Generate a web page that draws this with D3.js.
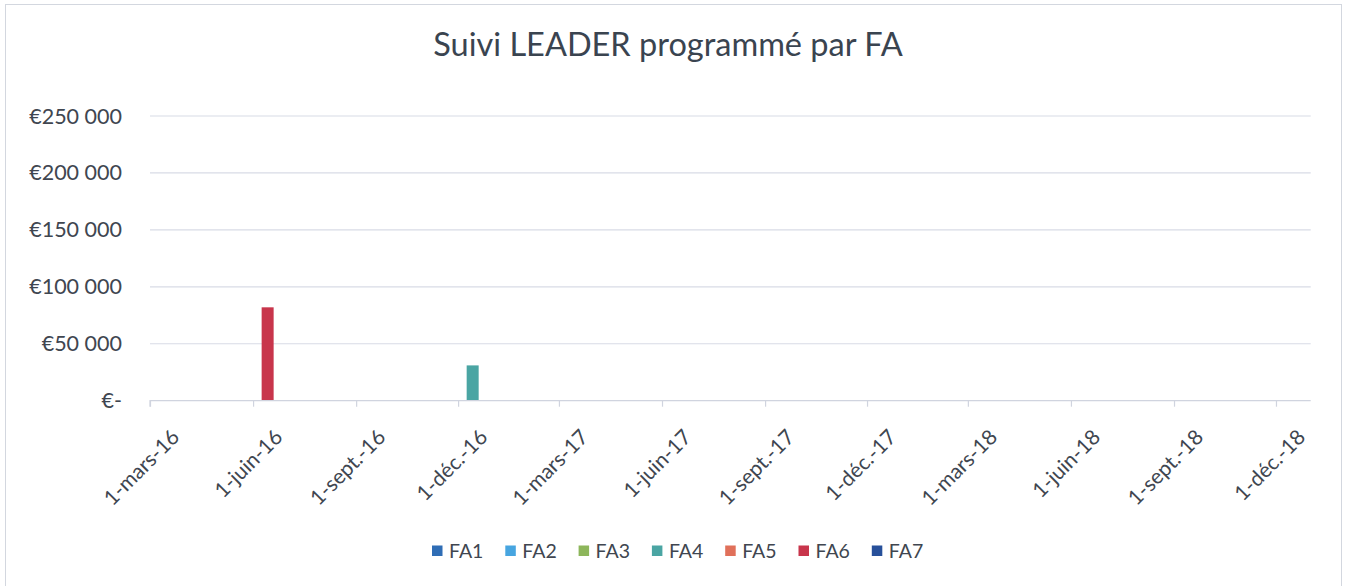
<!DOCTYPE html>
<html><head><meta charset="utf-8">
<script src="https://cdn.jsdelivr.net/npm/d3@7"></script>
<style>
html,body{margin:0;padding:0;background:#fff;}
svg{display:block;font-family:Lato,"Open Sans",sans-serif;}
</style></head>
<body>
<svg id="c" width="1346" height="586"></svg>
<script>
// ---- data ----
const title = "Suivi LEADER programmé par FA";
const seriesNames = ["FA1","FA2","FA3","FA4","FA5","FA6","FA7"];
const seriesColors = ["#2f6db5","#47a5e0","#8db65b","#4aa5a3","#e0705a","#c8354b","#27509a"];
const barSeries = ["FA6","FA4"];
const barDates = ["2016-06-14","2016-12-14"];
const barValues = [82000, 31000];
const tickDates = ["2016-03-01","2016-06-01","2016-09-01","2016-12-01","2017-03-01","2017-06-01","2017-09-01","2017-12-01","2018-03-01","2018-06-01","2018-09-01","2018-12-01"];
const tickLabels = ["1-mars-16","1-juin-16","1-sept.-16","1-déc.-16","1-mars-17","1-juin-17","1-sept.-17","1-déc.-17","1-mars-18","1-juin-18","1-sept.-18","1-déc.-18"];
const yTicks = [0,50000,100000,150000,200000,250000];
const yTickLabels = ["€-","€50 000","€100 000","€150 000","€200 000","€250 000"];
const xDomain = ["2016-03-01","2019-01-01"];

(function(){
const svg = d3.select("#c");
const parse = d3.utcParse("%Y-%m-%d");
const mLeft = 150, mRight = 1310.7, mTop = 116, mBottom = 400.7;
const textCol = "#404650";

svg.append("rect").attr("x",5.5).attr("y",4.5).attr("width",1336).attr("height",600)
  .attr("fill","#fff").attr("stroke","#d3d7df");

const x = d3.scaleUtc().domain(xDomain.map(parse)).range([mLeft, mRight]);
const y = d3.scaleLinear().domain([0,250000]).range([mBottom, mTop]);

svg.append("text").attr("x",668).attr("y",56).attr("text-anchor","middle")
  .attr("font-size",32.5).attr("fill","#3a4450").text(title);

svg.append("g").selectAll("line").data(yTicks.slice(1)).join("line")
  .attr("x1",mLeft).attr("x2",mRight).attr("y1",d=>y(d)).attr("y2",d=>y(d))
  .attr("stroke","#d8dbe6").attr("stroke-width",1.2);

svg.append("g").selectAll("text").data(yTicks).join("text")
  .attr("x",122).attr("y",d=>y(d)).attr("dy","0.35em").attr("text-anchor","end")
  .attr("font-size",21.5).attr("fill",textCol).text((d,i)=>yTickLabels[i]);

const bw = 12;
const colorOf = d3.scaleOrdinal().domain(seriesNames).range(seriesColors);
svg.append("g").selectAll("rect").data(barValues).join("rect")
  .attr("x",(d,i)=>x(parse(barDates[i]))-bw/2).attr("width",bw)
  .attr("y",d=>y(d)).attr("height",d=>y(0)-y(d))
  .attr("fill",(d,i)=>colorOf(barSeries[i]));

const xa = svg.append("g").attr("transform",`translate(0,${mBottom})`)
  .call(d3.axisBottom(x).tickValues(tickDates.map(parse)).tickSize(6).tickFormat(""));
xa.select(".domain").attr("stroke","#d0d4df").attr("stroke-width",1.2).attr("d",`M${mLeft},6V0H${mRight}`);
xa.selectAll(".tick line").attr("stroke","#d0d4df").attr("stroke-width",1.2);

svg.append("g").selectAll("text").data(tickDates).join("text")
  .attr("transform",d=>`translate(${x(parse(d))+20},${mBottom+27}) rotate(-45)`)
  .attr("text-anchor","end").attr("dy","0.72em")
  .attr("font-size",21).attr("fill",textCol).text((d,i)=>tickLabels[i]);

const lg = svg.append("g").selectAll("g").data(seriesNames).join("g")
  .attr("transform",(d,i)=>`translate(${432+i*73.3},550.5)`);
lg.append("rect").attr("x",0).attr("y",-5).attr("width",10.5).attr("height",10.5).attr("fill",(d,i)=>seriesColors[i]);
lg.append("text").attr("x",17).attr("y",0).attr("dy","0.36em").attr("font-size",19.5).attr("fill",textCol).text(d=>d);
})();
</script>
</body></html>
